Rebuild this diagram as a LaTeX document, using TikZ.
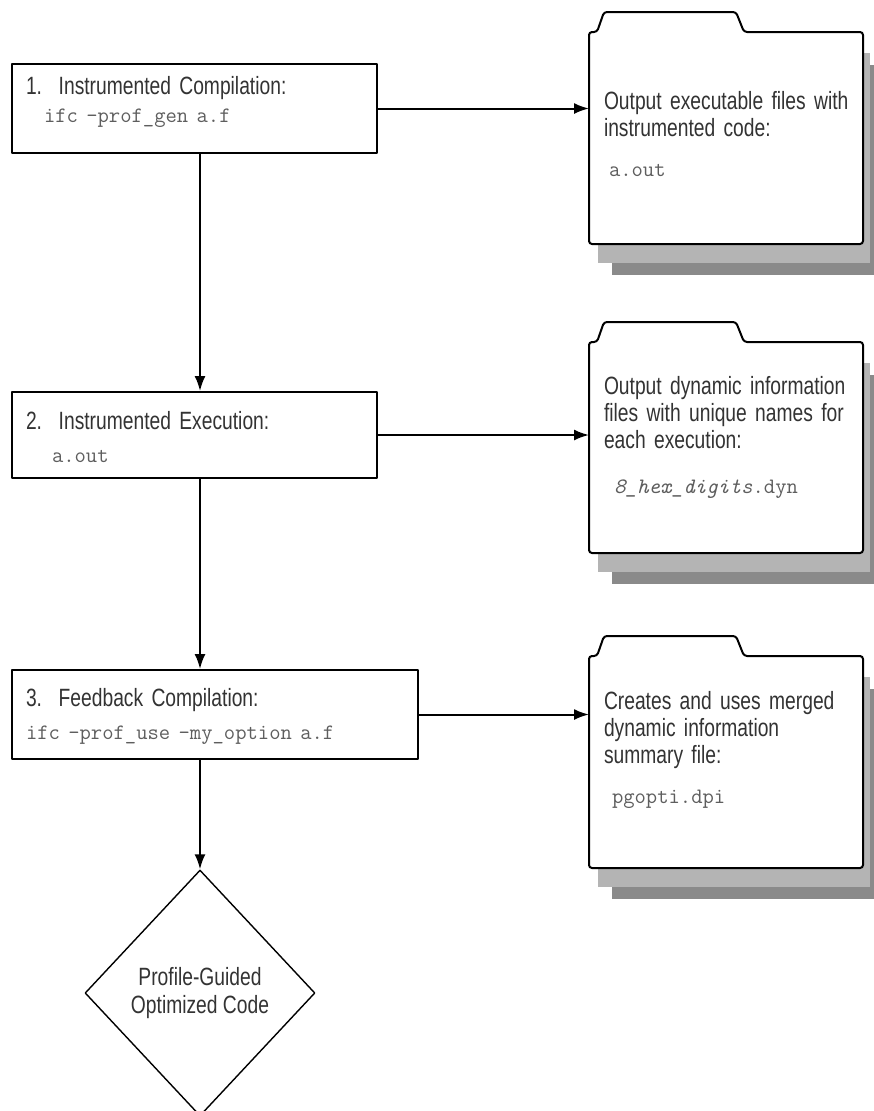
\documentclass[tikz,border=0pt]{standalone}
\usepackage{fontspec}
\setmainfont{Liberation Sans}[FakeStretch=0.77]
\usetikzlibrary{arrows.meta}
\usetikzlibrary{shapes.geometric,shadows}
\definecolor{textogris}{HTML}{333333}
\definecolor{codigogris}{HTML}{5E5E5E}
\definecolor{sombraclara}{HTML}{B4B4B4}
\definecolor{sombraoscura}{HTML}{8A8A8A}
\tikzstyle{every path}=[line width=2pt, line cap=round, line join=round]
\tikzstyle{paso}=[draw, rectangle, align=left, inner xsep=14pt, inner ysep=0pt, text=textogris, font=\fontsize{25}{27}\selectfont]
\tikzstyle{carpeta}=[rectangle, fill=white, inner xsep=10pt, inner ysep=0pt, text width=252pt, align=left, text=textogris, font=\fontsize{25}{27}\selectfont,
  general shadow={fill=sombraoscura, shadow xshift=22pt, shadow yshift=-32pt},
  general shadow={fill=sombraclara, shadow xshift=8pt, shadow yshift=-20pt}]
\tikzstyle{rombo}=[draw, diamond, minimum width=230pt, minimum height=246pt, inner sep=0pt, line width=1.4pt, align=center, text=textogris, font=\fontsize{25}{28}\selectfont]
\tikzstyle{flecha}=[-{Latex[length=15pt,width=11pt]}]
\newcommand{\cod}[1]{{\fontsize{22}{27}\selectfont\ttfamily\color{codigogris}#1}}
\newcommand{\pestana}[1]{\draw[rounded corners=3pt] (#1.south west) -- (#1.north west) -- ++(8,0) -- ++(7,-20) -- ++(132,0) -- ++(8,20) -- (#1.north east) -- (#1.south east) -- cycle;}

\begin{document}
\begin{tikzpicture}[x=1pt, y=-1pt]
          \useasboundingbox (0,0) rectangle (873,1111);
          %pasos
          \node[paso, text width=337pt, text height=30pt, text depth=59pt] (b1) at (194.5,108.5) {1.\ \ Instrumented Compilation:\\[1pt]\hspace*{18pt}\cod{ifc -prof\_gen a.f}};
          \node[paso, text width=337pt, text height=37pt, text depth=49pt] (b2) at (194.5,435) {2.\ \ Instrumented Execution:\\[6pt]\hspace*{26pt}\cod{a.out}};
          \node[paso, text width=378pt, text height=36pt, text depth=53pt] (b3) at (215,714.5) {3.\ \ Feedback Compilation:\\[6pt]\cod{ifc -prof\_use -my\_option a.f}};
          %resultado
          \node[rombo] (d) at (200,993) {Profile-Guided\\Optimized Code};
          %carpetas
          \node[carpeta, text height=76pt, text depth=134pt] (f1) at (726,138) {\hspace*{4pt}Output executable files with\\\hspace*{4pt}instrumented code:\\[13pt]\hspace*{9pt}\cod{a.out}};
          \pestana{f1}
          \node[carpeta, text height=51pt, text depth=158pt] (f2) at (726,447.5) {\hspace*{4pt}Output dynamic information\\\hspace*{4pt}files with unique names for\\\hspace*{4pt}each execution:\\[18pt]\hspace*{14pt}\cod{\textit{8\_hex\_digits}.dyn}};
          \pestana{f2}
          \node[carpeta, text height=52pt, text depth=158pt] (f3) at (726,762) {\hspace*{4pt}Creates and uses merged\\\hspace*{4pt}dynamic information\\\hspace*{4pt}summary file:\\[13pt]\hspace*{12pt}\cod{pgopti.dpi}};
          \pestana{f3}
          %flechas
          \draw[flecha] (b1.east) -- (b1.east -| f1.west);
          \draw[flecha] (b2.east) -- (b2.east -| f2.west);
          \draw[flecha] (b3.east) -- (b3.east -| f3.west);
          \draw[flecha] (b1.south -| d.north) -- (b2.north -| d.north);
          \draw[flecha] (b2.south -| d.north) -- (b3.north -| d.north);
          \draw[flecha] (b3.south -| d.north) -- (d.north);
\end{tikzpicture}
\end{document}
